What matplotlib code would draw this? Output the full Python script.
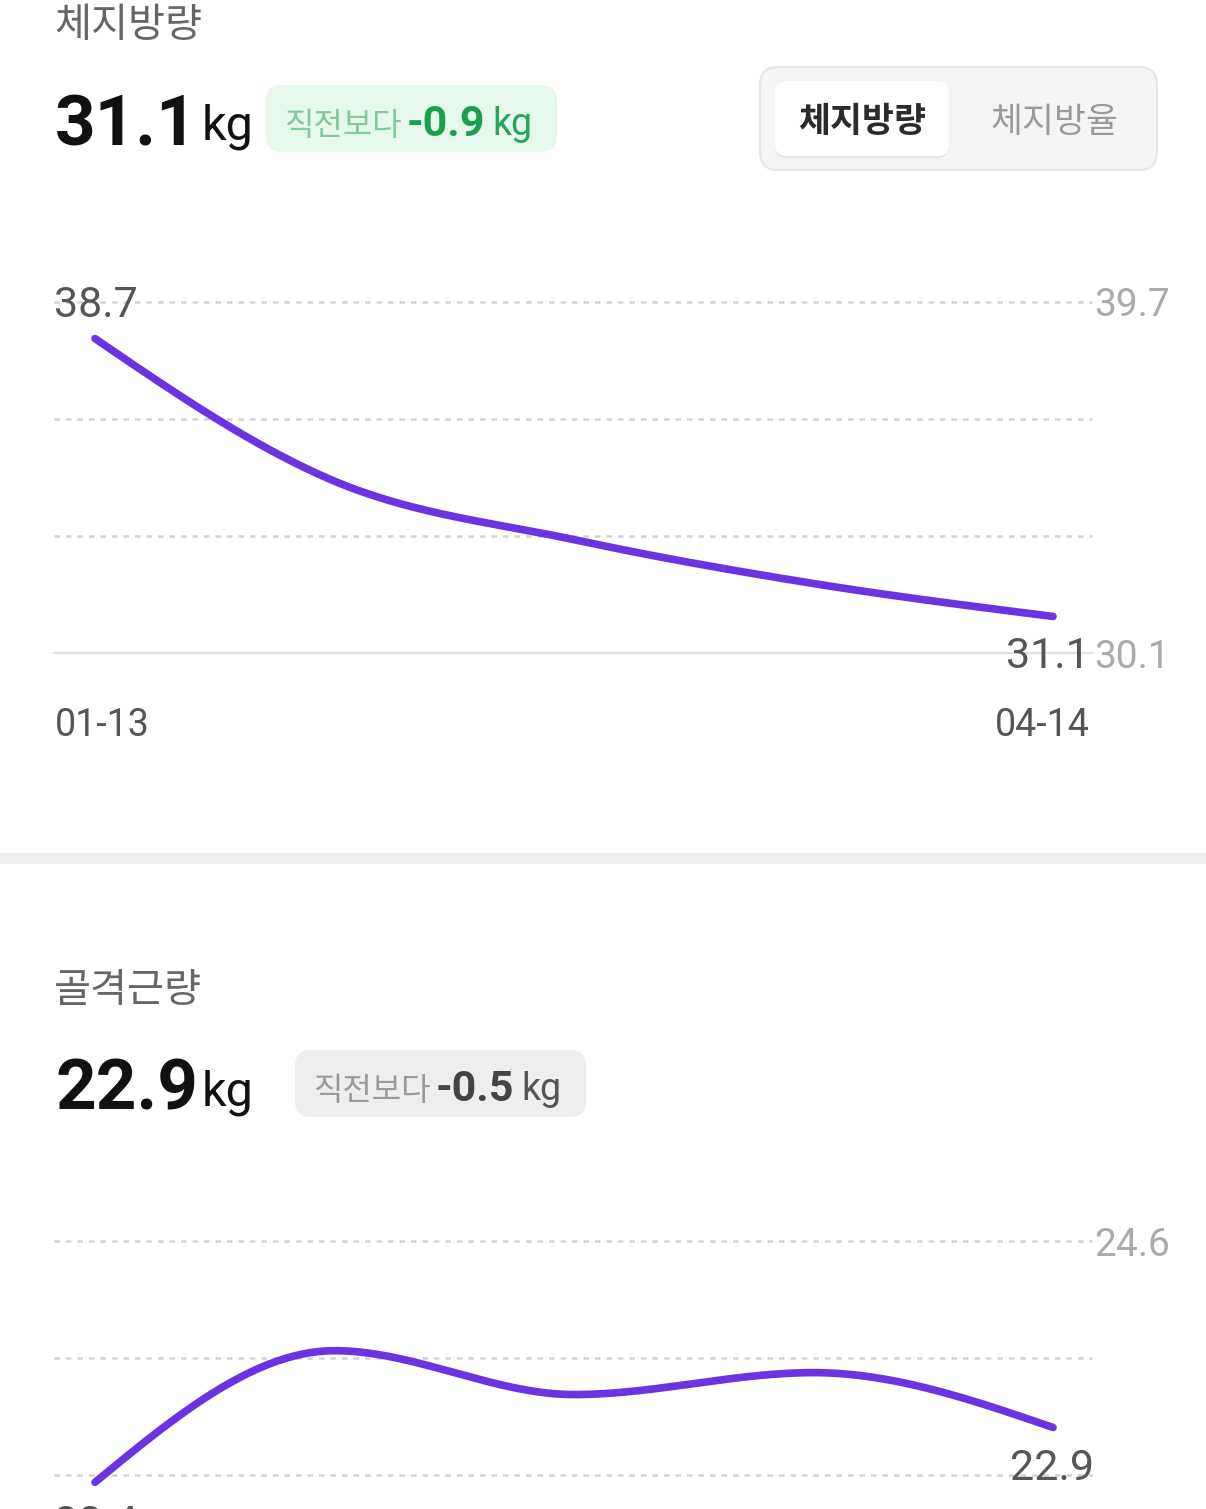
import numpy as np
import matplotlib
matplotlib.use('Agg')
import matplotlib.pyplot as plt
from matplotlib.patches import FancyBboxPatch
from matplotlib.transforms import blended_transform_factory

W, H = 1206, 1509
PT = 0.72  # px -> pt at dpi 100

LATIN = ['Roboto', 'Noto Sans CJK KR', 'DejaVu Sans']
KR = ['Noto Sans CJK KR', 'DejaVu Sans']
plt.rcParams['font.family'] = LATIN

# data
dates = ['01-13', '04-14']
fat_mass = [38.7, 34.8, 33.2, 32.0, 31.1]
muscle_mass = [22.4, 23.6, 23.2, 23.4, 22.9]
fat_change = '-0.9'
muscle_change = '-0.5'
tabs = ['체지방량', '체지방율']

PURPLE = '#6a34e0'


def monotone(y, n=60):
    # monotone cubic (d3 curveMonotoneX style)
    y = np.asarray(y, float)
    x = np.arange(len(y), dtype=float)
    d = np.diff(y)
    m = np.zeros_like(y)
    for i in range(1, len(y) - 1):
        if d[i - 1] * d[i] > 0:
            p = (d[i - 1] + d[i]) / 2
            m[i] = (np.sign(d[i - 1]) + np.sign(d[i])) * min(abs(d[i - 1]), abs(d[i]), 0.5 * abs(p))
    m[0] = (3 * d[0] - m[1]) / 2
    m[-1] = (3 * d[-1] - m[-2]) / 2
    xs, ys = [], []
    for i in range(len(y) - 1):
        t = np.linspace(0, 1, n)
        h00 = 2 * t**3 - 3 * t**2 + 1
        h10 = t**3 - 2 * t**2 + t
        h01 = -2 * t**3 + 3 * t**2
        h11 = t**3 - t**2
        xs.append(x[i] + t)
        ys.append(h00 * y[i] + h10 * m[i] + h01 * y[i + 1] + h11 * m[i + 1])
    return np.concatenate(xs), np.concatenate(ys)


fig = plt.figure(figsize=(W / 100, H / 100), dpi=100)
fig.patch.set_facecolor('white')

# overlay in pixel coordinates
ov = fig.add_axes([0, 0, 1, 1])
ov.set_xlim(0, W)
ov.set_ylim(H, 0)
ov.axis('off')
renderer = fig.canvas.get_renderer()


def rbox(x0, y0, x1, y1, r, fc, ec='none', lw=0, z=1):
    p = FancyBboxPatch((x0 + r, y0 + r), x1 - x0 - 2 * r, y1 - y0 - 2 * r,
                       boxstyle='round,pad=%g' % r, fc=fc, ec=ec, lw=lw, zorder=z)
    ov.add_patch(p)
    return p


def run(x, y, parts):
    # parts: (text, size, color, weight, family, dy, gap)
    for txt, size, color, weight, fam, dy, gap in parts:
        t = ov.text(x, y + dy, txt, fontsize=size, color=color, fontweight=weight,
                    family=fam, ha='left', va='baseline', zorder=5)
        x += t.get_window_extent(renderer).width + gap


def header(y0, title, value, change, pill_x, pill_fc, c_lbl, c_val, c_kg):
    ov.text(54, y0 + 32, title, fontsize=29, color='#666666', family=KR,
            fontweight='medium', ha='left', va='baseline')
    run(55, y0 + 140, [(value, 51, '#111111', 'bold', LATIN, 0, 4),
                       ('kg', 35, '#111111', 'normal', LATIN, -5, 0)])
    rbox(pill_x, y0 + 80, pill_x + 291, y0 + 147, 16, pill_fc)
    run(pill_x + 18, y0 + 130, [('직전보다', 23, c_lbl, 'normal', KR, 0, 5),
                                (change, 31, c_val, 'bold', LATIN, 1, 7),
                                ('kg', 27, c_kg, 'normal', LATIN, 0, 0)])


header(5, '체지방량', str(fat_mass[-1]), fat_change, 266, '#e6f8ec',
       '#7fcb99', '#1c9f4c', '#27a657')
header(970, '골격근량', str(muscle_mass[-1]), muscle_change, 295, '#eeeeee',
       '#9a9a9a', '#444444', '#555555')

# segmented control
rbox(760, 67, 1157, 170, 18, '#f4f4f4', ec='#e6e6e6', lw=1.5)
rbox(775, 83, 949, 158, 12, '#000000', z=1.5).set_alpha(0.05)
rbox(775, 81, 949, 156, 12, 'white', z=2)
ov.text(862, 132, tabs[0], fontsize=25, color='#2b2b2b', fontweight='bold',
        family=KR, ha='center', va='baseline', zorder=5)
ov.text(1055, 132, tabs[1], fontsize=25, color='#9a9a9a', fontweight='medium',
        family=KR, ha='center', va='baseline', zorder=5)

# divider
ov.add_patch(plt.Rectangle((0, 853), W, 11, fc='#eeeeee', ec='none'))


def chart(top_px, values, start_lab, end_lab, dates_on, base_solid):
    lo, hi = min(values) - 1, max(values) + 1
    ax = fig.add_axes([54 / W, 1 - (top_px + 351) / H, 1038 / W, 351 / H])
    ax.set_facecolor('none')
    ax.axis('off')
    step = (1053 - 95) / 4
    ax.set_xlim(-41 / step, len(values) - 1 + 39 / step)
    ax.set_ylim(lo, hi)
    levels = np.linspace(lo, hi, 4)
    for i, lv in enumerate(levels):
        if i == 0 and base_solid:
            ax.axhline(lv, color='#e2e2e2', lw=1.6, clip_on=False)
        else:
            ax.axhline(lv, color='#d2d2d2', lw=1.8, dashes=(2.2, 2.4), clip_on=False)
    tr = blended_transform_factory(ax.transAxes, ax.transData)
    for lv in (hi, lo):
        ax.text(1 + 2 / 1038, lv, '%.1f' % lv, transform=tr, fontsize=28,
                color='#aaaaaa', ha='left', va='center_baseline', clip_on=False)
    xs, ys = monotone(values)
    ax.plot(xs, ys, color=PURPLE, lw=5.5, solid_capstyle='round', clip_on=False, zorder=3)
    # point labels
    (dx0, dy0), (dx1, dy1) = start_lab, end_lab
    ax.annotate('%.1f' % values[0], (0, values[0]), xytext=(dx0 * PT, dy0 * PT),
                textcoords='offset points', fontsize=31, color='#555555',
                ha='left', va='baseline', annotation_clip=False)
    ax.annotate('%.1f' % values[-1], (len(values) - 1, values[-1]),
                xytext=(dx1 * PT, dy1 * PT), textcoords='offset points', fontsize=31,
                color='#555555', ha='right', va='baseline', annotation_clip=False, zorder=4)
    if dates_on:
        ax.annotate(dates[0], (0, 0), xycoords='axes fraction', xytext=(1 * PT, -69 * PT),
                    textcoords='offset points', fontsize=27, color='#555555',
                    ha='left', va='center_baseline')
        ax.annotate(dates[1], (1, 0), xycoords='axes fraction', xytext=(-2 * PT, -69 * PT),
                    textcoords='offset points', fontsize=27, color='#555555',
                    ha='right', va='center_baseline')
    return ax


chart(302, fat_mass, (-41, 22), (37, -52), True, True)
chart(1241, muscle_mass, (-41, -54), (41, -53), False, False)

fig.savefig('out.png', dpi=100, facecolor='white')
